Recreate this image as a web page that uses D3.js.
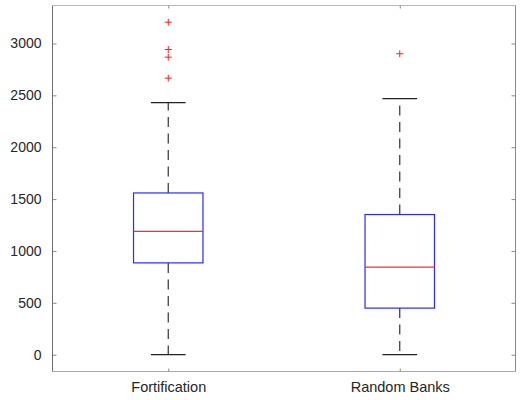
<!DOCTYPE html>
<html>
<head>
<meta charset="utf-8">
<script src="https://cdn.jsdelivr.net/npm/d3@7"></script>
<style>
  html, body { margin: 0; padding: 0; background: #fff; }
  svg { display: block; }
  text { font-family: "Liberation Sans", Arial, Helvetica, sans-serif; }
</style>
</head>
<body>
<svg id="chart" width="521" height="400"></svg>
<script>
// Groups and their five-number summaries plus flagged outliers
const groups = ["Fortification", "Random Banks"];
const lowerWhisker = [0, 0];
const q1 = [885, 449];
const median = [1188, 844];
const q3 = [1559, 1351];
const upperWhisker = [2429, 2468];
const outliers = [
  [3205, 2942, 2868, 2666],
  [2901]
];
const yTicks = [0, 500, 1000, 1500, 2000, 2500, 3000];

const svg = d3.select("#chart");
const plotLeft = 52.5, plotRight = 515.5, plotTop = 5.5, plotBottom = 371.5;

// Categorical positions 1..n in a padded continuous domain
const x = d3.scaleLinear().domain([0.5, 2.5]).range([plotLeft, plotRight]);
const y = d3.scaleLinear().domain([-162, 3366]).range([plotBottom, plotTop]);

const textColor = "#262626";
const boxHalf = 0.15, capHalf = 0.075;

// Frame
svg.append("line").attr("x1", plotLeft).attr("x2", plotRight).attr("y1", plotTop).attr("y2", plotTop)
  .attr("stroke", "#b8b8b8").attr("stroke-width", 1);
svg.append("line").attr("x1", plotLeft).attr("x2", plotRight).attr("y1", plotBottom).attr("y2", plotBottom)
  .attr("stroke", "#a8a8a8").attr("stroke-width", 1);
svg.append("line").attr("x1", plotRight).attr("x2", plotRight).attr("y1", plotTop).attr("y2", plotBottom)
  .attr("stroke", "#8a8a8a").attr("stroke-width", 1);

// Left axis with inward ticks
const yAxis = d3.axisLeft(y).tickValues(yTicks).tickSize(-4).tickPadding(11).tickFormat(d3.format("d"));
const gy = svg.append("g").attr("transform", `translate(${plotLeft},0)`).call(yAxis);
gy.select(".domain").attr("stroke", "#6e6e6e").attr("d", `M0,${plotTop}V${plotBottom}`);
gy.selectAll(".tick line").attr("stroke", "#8a8a8a");
gy.selectAll(".tick text").attr("fill", textColor).attr("font-size", 14);

// Right side mirrored ticks
const gr = svg.append("g").attr("transform", `translate(${plotRight},0)`)
  .call(d3.axisRight(y).tickValues(yTicks).tickSize(-4).tickFormat(""));
gr.select(".domain").remove();
gr.selectAll(".tick line").attr("stroke", "#8a8a8a");

// Bottom axis with category labels
const xAxis = d3.axisBottom(x).tickValues([1, 2]).tickSize(-3).tickPadding(10)
  .tickFormat((d) => groups[d - 1]);
const gx = svg.append("g").attr("transform", `translate(0,${plotBottom})`).call(xAxis);
gx.select(".domain").remove();
gx.selectAll(".tick line").attr("stroke", "#8a8a8a");
gx.selectAll(".tick text").attr("fill", textColor).attr("font-size", 14.5);

// Top ticks
const gt = svg.append("g").attr("transform", `translate(0,${plotTop})`)
  .call(d3.axisTop(x).tickValues([1, 2]).tickSize(-3).tickFormat(""));
gt.select(".domain").remove();
gt.selectAll(".tick line").attr("stroke", "#8a8a8a");

// Boxes
const data = groups.map((g, i) => ({
  pos: i + 1, lo: lowerWhisker[i], q1: q1[i], med: median[i], q3: q3[i], hi: upperWhisker[i], out: outliers[i]
}));

const g = svg.append("g");
data.forEach((d) => {
  const cx = x(d.pos);
  const dash = "10,6.5";
  // whiskers
  g.append("line").attr("x1", cx).attr("x2", cx).attr("y1", y(d.q3)).attr("y2", y(d.hi))
    .attr("stroke", "#333").attr("stroke-width", 1.2).attr("stroke-dasharray", dash);
  g.append("line").attr("x1", cx).attr("x2", cx).attr("y1", y(d.q1)).attr("y2", y(d.lo))
    .attr("stroke", "#333").attr("stroke-width", 1.2).attr("stroke-dasharray", dash);
  // caps
  [d.hi, d.lo].forEach((v) => {
    g.append("line").attr("x1", x(d.pos - capHalf)).attr("x2", x(d.pos + capHalf))
      .attr("y1", y(v)).attr("y2", y(v)).attr("stroke", "#222").attr("stroke-width", 1.2);
  });
  // box
  g.append("rect").attr("x", x(d.pos - boxHalf)).attr("y", y(d.q3))
    .attr("width", x(d.pos + boxHalf) - x(d.pos - boxHalf)).attr("height", y(d.q1) - y(d.q3))
    .attr("fill", "none").attr("stroke", "#2a2aff").attr("stroke-width", 1.2);
  // median
  g.append("line").attr("x1", x(d.pos - boxHalf)).attr("x2", x(d.pos + boxHalf))
    .attr("y1", y(d.med)).attr("y2", y(d.med)).attr("stroke", "#ff2a2a").attr("stroke-width", 1.2);
  // outliers
  d.out.forEach((v) => {
    const py = y(v), s = 3.5;
    g.append("path").attr("d", `M${cx - s},${py}H${cx + s}M${cx},${py - s}V${py + s}`)
      .attr("stroke", "#ff2020").attr("stroke-width", 1).attr("fill", "none");
  });
});
</script>
</body>
</html>
